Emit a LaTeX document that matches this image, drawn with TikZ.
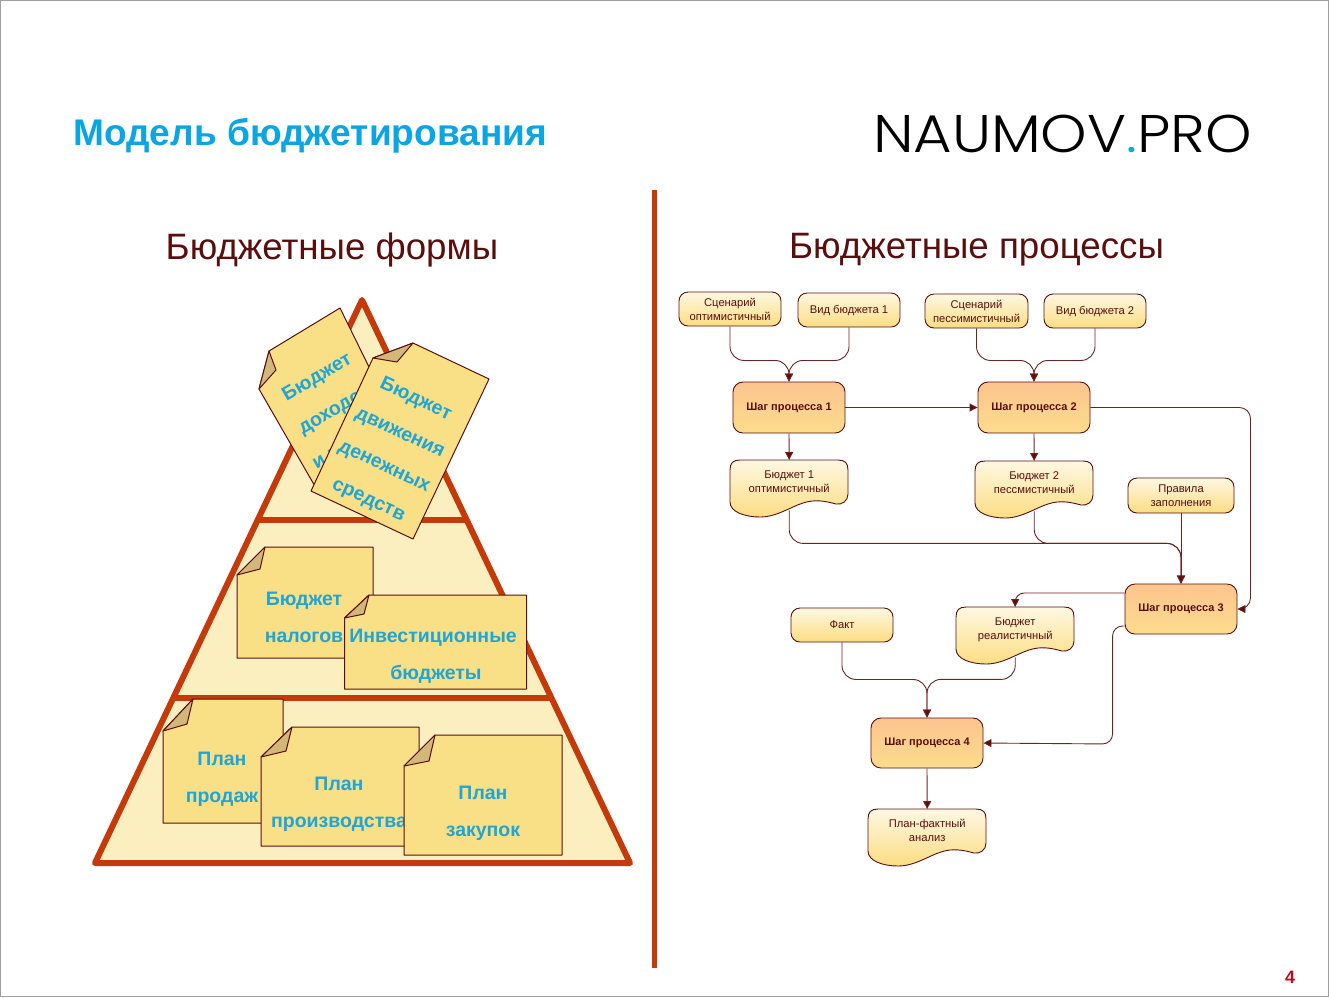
\documentclass[tikz,border=0pt]{standalone}
\usepackage{graphicx}
\usepackage{fontspec}
\setmainfont{Liberation Sans}
\newfontfamily\logofont{Poppins Light}
\usetikzlibrary{arrows.meta}
\definecolor{rust}{HTML}{C53A0B}
\definecolor{maroon}{HTML}{5A0F0F}
\definecolor{linec}{HTML}{6E2222}
\definecolor{skyb}{HTML}{0AA5E2}
\definecolor{noteb}{HTML}{1FA5D6}
\definecolor{notef}{HTML}{F9DF85}
\definecolor{flapf}{HTML}{D2B878}
\definecolor{pyrf}{HTML}{FBEFC0}
\definecolor{creamtop}{HTML}{FFF8E2}
\definecolor{creambot}{HTML}{FBDD82}
\definecolor{steptop}{HTML}{FDC48E}
\definecolor{stepbot}{HTML}{FCDC8C}
\definecolor{pagered}{HTML}{C00A1E}
\tikzset{
  x=1pt,y=-1pt,
  heading/.style={text=maroon,font=\fontsize{36.7}{40}\selectfont,inner sep=0pt},
  inbox/.style={draw=maroon,line width=0.9pt,rounded corners=9pt,top color=creamtop,bottom color=creambot,
    text=maroon,font=\fontsize{11.2}{14}\selectfont,align=center,inner sep=0pt},
  stepbox/.style={draw=maroon,line width=0.9pt,rounded corners=10pt,top color=steptop,bottom color=stepbot,
    text=maroon,font=\bfseries\fontsize{11}{14}\selectfont,align=center,inner sep=0pt},
  doctext/.style={text=maroon,font=\fontsize{11.2}{14}\selectfont,align=center,inner sep=0pt},
  conn/.style={draw=linec,line width=0.9pt,rounded corners=14pt,-{Triangle[length=8pt,width=8pt,fill=maroon]}},
  notepaper/.style={draw=maroon,line width=1pt,fill=notef,line join=round},
  flap/.style={draw=maroon,line width=1pt,fill=flapf,line join=round},
  notetext/.style={text=noteb,font=\bfseries\fontsize{19.5}{37}\selectfont,align=center,inner sep=0pt},
}
\newcommand{\inbx}[6]{\node[inbox,minimum width=#4pt-#2pt,minimum height=#5pt-#3pt] (#1) at ({(#2+#4)/2},{(#3+#5)/2}) {#6};}
\newcommand{\stbx}[6]{\node[stepbox,minimum width=#4pt-#2pt,minimum height=#5pt-#3pt] (#1) at ({(#2+#4)/2},{(#3+#5)/2}) {\raisebox{-1pt}{#6}};}
% name, x0, y0 (top left), text; size 118x57
\newcommand{\docbx}[4]{%
  \path[draw=maroon,line width=0.9pt,top color=creamtop,bottom color=creambot,shift={(#2,#3)}]
    (0,10) .. controls (0,3) and (3,0) .. (10,0) -- (108,0) .. controls (115,0) and (118,3) .. (118,10)
    -- (118,34) .. controls (118,41) and (112,45) .. (106,44) .. controls (95,41) and (85,39) .. (73,43)
    .. controls (60,47) and (47,57) .. (30,57) .. controls (15,57) and (0,52) .. (0,42) -- cycle;
  \node[doctext,minimum width=118pt,minimum height=50pt,anchor=north west] (#1) at (#2,#3) {\raisebox{0.2pt}[0pt][0pt]{\begin{tabular}{@{}c@{}}#4\end{tabular}}};}
% name, x0,y0,x1,y1, foldx on top, foldy on left, flapx, flapy
\newcommand{\notebx}[9]{%
  \draw[notepaper] (#6,#3) -- (#4,#3) -- (#4,#5) -- (#2,#5) -- (#2,#7) -- cycle;
  \draw[flap] (#6,#3) -- (#8,#9) -- (#2,#7) -- cycle;
  \coordinate (#1) at ({(#2+#4)/2},{(#3+#5)/2});}
\begin{document}
\begin{tikzpicture}
\useasboundingbox (0,0) rectangle (1329,997);
\fill[white] (0,0) rectangle (1329,997);
\draw[gray!75,line width=1.3pt] (0.5,0.5) rectangle (1328.5,996.5);
% titles
\node[anchor=base west,text=skyb,font=\bfseries\fontsize{37.1}{40}\selectfont,inner sep=0pt] (title) at (73,145) {Модель бюджетирования};
\node[anchor=base east,font=\logofont\fontsize{53}{60}\selectfont,inner sep=0pt] (logo) at (1252,152.5) {\scalebox{1.115}[1]{NAUMOV{\color{skyb}.}PRO}};
\node[heading] (hforms) at (332,250) {Бюджетные формы};
\node[heading] (hproc) at (976.5,250) {Бюджетные процессы};
% divider
\coordinate (dtop) at (654,190);
\coordinate (dbot) at (654,968);
\draw[rust,line width=5pt] (dtop) -- (dbot);
% pyramid
\coordinate (apex) at (362,300);
\coordinate (pbl) at (95,863);
\coordinate (pbr) at (630,863);
\fill[pyrf] (apex) -- (pbr) -- (pbl) -- cycle;
\draw[rust,line width=6pt,line join=round] (apex) -- (pbr) -- (pbl) -- cycle;
\draw[rust,line width=6pt] (258,520) -- (467,520);
\draw[rust,line width=6pt] (173,698) -- (551,698);
% rotated note 1
\draw[notepaper] (269,351) -- (340,308) -- (400,430) -- (320,495) -- (259,389) -- cycle;
\draw[flap] (269,351) -- (276,370) -- (259,389) -- cycle;
\node[notetext,rotate=30] (ndohod) at (336,410) {Бюджет\\доходов\\\hspace*{16pt}и расходов};
% rotated note 2
\draw[notepaper] (413,343) -- (489,379) -- (413,539) -- (311,491) -- (373,358) -- cycle;
\draw[flap] (413,343) -- (397,362) -- (373,358) -- cycle;
\node[notetext,rotate=-25] (nddc) at (392,450) {Бюджет\\движения\\денежных\\средств};
% notes
\notebx{nalog}{237}{547}{373}{658}{265}{575}{260}{569}
\node[notetext] (nnalog) at (304,617.5) {Бюджет\\налогов};
\notebx{inv}{344.5}{595}{526.5}{689}{369}{618}{364}{614}
\node[notetext] (ninv) at (433,656.5) {Инвестиционные\\\hspace*{6pt}бюджеты};
\notebx{sales}{163}{699}{283}{823}{193}{731}{187}{724}
\node[notetext] (nsales) at (222,779.5) {План\\продаж};
\notebx{prod}{261}{727}{419}{846}{292}{757}{286}{751}
\node[notetext] (nprod) at (339,804.5) {План\\производства};
\notebx{purch}{404}{735}{562}{855}{435}{766}{429}{761}
\node[notetext] (npurch) at (483,813.5) {План\\закупок};
% process
\inbx{s1}{679}{292}{781}{326}{Сценарий\\оптимистичный}
\inbx{v1}{798}{293}{900}{327}{Вид бюджета 1}
\inbx{s2}{925}{294}{1028}{328}{Сценарий\\пессимистичный}
\inbx{v2}{1044}{294}{1146}{328}{Вид бюджета 2}
\stbx{p1}{733}{382}{845}{433}{Шаг процесса 1}
\stbx{p2}{978}{382}{1090}{433}{Шаг процесса 2}
\stbx{p3}{1125}{584}{1237}{634}{Шаг процесса 3}
\stbx{p4}{871}{718}{983}{768}{Шаг процесса 4}
\inbx{rules}{1128}{478}{1234}{513}{Правила\\заполнения}
\inbx{fact}{791}{608}{893}{642}{Факт}
\docbx{b1}{730}{460}{Бюджет 1\\оптимистичный}
\docbx{b2}{975}{461}{Бюджет 2\\пессмистичный}
\docbx{brl}{956}{607}{Бюджет\\реалистичный}
\docbx{pf}{868}{809}{План-фактный\\анализ}
% connectors
\draw[conn] (s1.south) -- ++(0,34) -| (p1.north);
\draw[conn] (v1.south) -- ++(0,33) -| (p1.north);
\draw[conn] (s2.south) -- ++(0,32) -| (p2.north);
\draw[conn] (v2.south) -- ++(0,32) -| (p2.north);
\draw[conn] (p1.east) -- (p2.west);
\draw[conn] (p1.south) -- (b1.north);
\draw[conn] (p2.south) -- (b2.north);
\draw[conn,rounded corners=11pt] (p2.east) -- ++(160,0) |- (p3.east);
\draw[conn] (rules.south) -- (p3.north);
\draw[conn] (b1.south) -- ++(0,33) -| (p3.north);
\draw[conn] (b2.south) -- ++(0,32) -| (p3.north);
\draw[conn,rounded corners=9pt] ([yshift=16pt]p3.west) -| (brl.north);
\draw[conn,rounded corners=10pt] ([yshift=-17pt]p3.west) -| ++(-12,118) -- (p4.east);
\draw[conn] (fact.south) -- ++(0,37) -| (p4.north);
\draw[conn] (brl.south) -- ++(0,22) -| (p4.north);
\draw[conn] (p4.south) -- (pf.north);
\node[text=pagered,font=\bfseries\fontsize{18}{20}\selectfont,inner sep=0pt] (pageno) at (1290,977) {4};
\end{tikzpicture}
\end{document}
